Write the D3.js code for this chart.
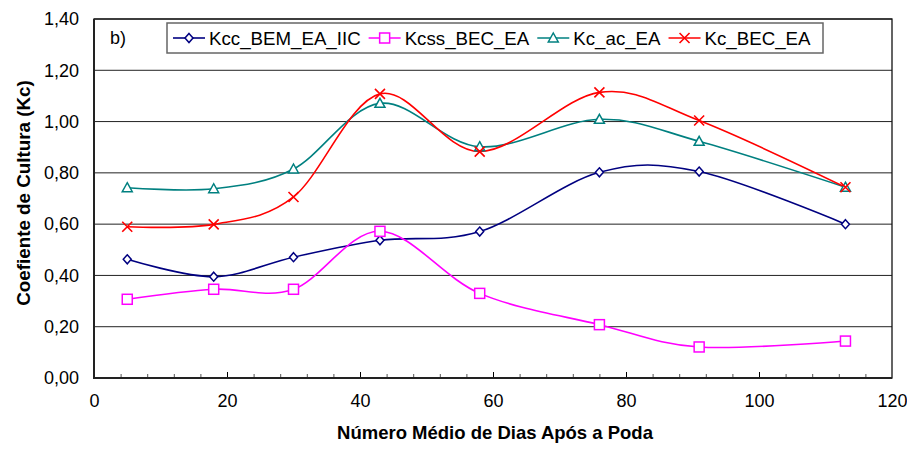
<!DOCTYPE html>
<html>
<head>
<meta charset="utf-8">
<script src="https://cdn.jsdelivr.net/npm/d3@7"></script>
<style>
  body { margin: 0; background: #fff; }
  svg { display: block; font-family: "Liberation Sans", Arial, sans-serif; }
</style>
</head>
<body>
<svg id="chart" width="907" height="452"></svg>
<script>
const days = [5, 18, 30, 43, 58, 76, 91, 113];
const kccBemEaIic = [0.463, 0.395, 0.471, 0.537, 0.571, 0.802, 0.805, 0.600];
const kcssBecEa = [0.307, 0.346, 0.346, 0.572, 0.330, 0.208, 0.121, 0.144];
const kcAcEa = [0.742, 0.738, 0.815, 1.071, 0.902, 1.009, 0.923, 0.744];
const kcBecEa = [0.590, 0.599, 0.706, 1.108, 0.883, 1.114, 1.004, 0.744];

const seriesNames = ['Kcc_BEM_EA_IIC', 'Kcss_BEC_EA', 'Kc_ac_EA', 'Kc_BEC_EA'];
const seriesColors = ['#000080', '#ff00ff', '#008080', '#ff0000'];
const seriesMarkers = ['diamond', 'square', 'triangle', 'cross'];
const seriesValues = [kccBemEaIic, kcssBecEa, kcAcEa, kcBecEa];

const xTicks = [0, 20, 40, 60, 80, 100, 120];
const yTicks = [0, 0.2, 0.4, 0.6, 0.8, 1.0, 1.2, 1.4];

const chart = d3.select('#chart');
const plotLeft = 94;
const plotRight = 892;
const plotTop = 19;
const plotBottom = 378;

const xScale = d3.scaleLinear().domain([0, 120]).range([plotLeft, plotRight]);
const yScale = d3.scaleLinear().domain([0, 1.4]).range([plotBottom, plotTop]);

const commaFormat = value => d3.format('.2f')(value).replace('.', ',');

// grid lines
chart.append('g')
  .selectAll('line')
  .data(yTicks.slice(1))
  .enter()
  .append('line')
  .attr('x1', plotLeft)
  .attr('x2', plotRight)
  .attr('y1', tick => yScale(tick))
  .attr('y2', tick => yScale(tick))
  .attr('stroke', '#222')
  .attr('stroke-width', 1);

// plot border
chart.append('rect')
  .attr('x', plotLeft)
  .attr('y', plotTop)
  .attr('width', plotRight - plotLeft)
  .attr('height', plotBottom - plotTop)
  .attr('fill', 'none')
  .attr('stroke', '#111')
  .attr('stroke-width', 1.3);

// x axis, ticks inside
const xAxisMinor = d3.axisTop(xScale)
  .tickValues(d3.range(4, 120, 4).filter(v => v % 20 !== 0))
  .tickSize(4)
  .tickFormat('');
chart.append('g')
  .attr('transform', `translate(0,${plotBottom})`)
  .call(xAxisMinor)
  .call(g => g.select('.domain').remove())
  .selectAll('line').attr('stroke', '#555');

const xAxisMajor = d3.axisTop(xScale)
  .tickValues(xTicks.slice(1, -1))
  .tickSize(6)
  .tickFormat('');
chart.append('g')
  .attr('transform', `translate(0,${plotBottom})`)
  .call(xAxisMajor)
  .call(g => g.select('.domain').remove())
  .selectAll('line').attr('stroke', '#000');

const xAxisLabels = d3.axisBottom(xScale)
  .tickValues(xTicks)
  .tickSize(0)
  .tickPadding(16)
  .tickFormat(d3.format('d'));
chart.append('g')
  .attr('transform', `translate(0,${plotBottom})`)
  .call(xAxisLabels)
  .call(g => g.select('.domain').remove())
  .selectAll('text')
  .attr('font-size', 18)
  .attr('font-family', '"Liberation Sans", Arial, sans-serif')
  .attr('fill', '#000');

const yAxisLabels = d3.axisLeft(yScale)
  .tickValues(yTicks)
  .tickSize(0)
  .tickPadding(15)
  .tickFormat(commaFormat);
chart.append('g')
  .attr('transform', `translate(${plotLeft},0)`)
  .call(yAxisLabels)
  .call(g => g.select('.domain').remove())
  .selectAll('text')
  .attr('font-size', 18)
  .attr('font-family', '"Liberation Sans", Arial, sans-serif')
  .attr('fill', '#000');

// axis lines (thicker left and bottom)
chart.append('line')
  .attr('x1', plotLeft).attr('x2', plotLeft)
  .attr('y1', plotTop).attr('y2', plotBottom + 1)
  .attr('stroke', '#222').attr('stroke-width', 2);
chart.append('line')
  .attr('x1', plotLeft - 1).attr('x2', plotRight)
  .attr('y1', plotBottom).attr('y2', plotBottom)
  .attr('stroke', '#222').attr('stroke-width', 2);

// axis titles
chart.append('text')
  .attr('x', 495)
  .attr('y', 439)
  .attr('text-anchor', 'middle')
  .attr('font-size', 18.5)
  .attr('font-weight', 'bold')
  .text('Número Médio de Dias Após a Poda');

chart.append('text')
  .attr('transform', 'translate(30,193) rotate(-90)')
  .attr('text-anchor', 'middle')
  .attr('font-size', 18.8)
  .attr('font-weight', 'bold')
  .text('Coefiente de Cultura (Kc)');

chart.append('text')
  .attr('x', 110)
  .attr('y', 44)
  .attr('font-size', 18)
  .text('b)');

// markers
function drawMarker(group, kind, color) {
  if (kind === 'diamond') {
    group.append('path')
      .attr('d', 'M0,-4.5L4,0L0,4.5L-4,0Z')
      .attr('fill', '#fff').attr('stroke', color).attr('stroke-width', 1.5);
  } else if (kind === 'square') {
    group.append('rect')
      .attr('x', -5).attr('y', -5).attr('width', 10).attr('height', 10)
      .attr('fill', '#fff').attr('stroke', color).attr('stroke-width', 1.5);
  } else if (kind === 'triangle') {
    group.append('path')
      .attr('d', 'M0,-5L5,4L-5,4Z')
      .attr('fill', '#fff').attr('stroke', color).attr('stroke-width', 1.5);
  } else {
    group.append('path')
      .attr('d', 'M-5,-5L5,5M-5,5L5,-5')
      .attr('fill', 'none').attr('stroke', color).attr('stroke-width', 1.6);
  }
}

const lineGen = d3.line()
  .x((value, i) => xScale(days[i]))
  .y(value => yScale(value))
  .curve(d3.curveCardinal.tension(0));

seriesValues.forEach((values, s) => {
  chart.append('path')
    .datum(values)
    .attr('d', lineGen)
    .attr('fill', 'none')
    .attr('stroke', seriesColors[s])
    .attr('stroke-width', 1.6);
});

seriesValues.forEach((values, s) => {
  chart.append('g')
    .selectAll('g')
    .data(values)
    .enter()
    .append('g')
    .attr('transform', (value, i) => `translate(${xScale(days[i])},${yScale(value)})`)
    .each(function () { drawMarker(d3.select(this), seriesMarkers[s], seriesColors[s]); });
});

// legend
const legend = chart.append('g');
legend.append('rect')
  .attr('x', 167)
  .attr('y', 23)
  .attr('width', 656)
  .attr('height', 30)
  .attr('fill', '#fff')
  .attr('stroke', '#666')
  .attr('stroke-width', 1.5);

let legendX = 173;
seriesNames.forEach((name, s) => {
  const item = legend.append('g');
  item.append('line')
    .attr('x1', legendX).attr('x2', legendX + 32)
    .attr('y1', 38).attr('y2', 38)
    .attr('stroke', seriesColors[s]).attr('stroke-width', 1.6);
  drawMarker(item.append('g').attr('transform', `translate(${legendX + 16},38)`), seriesMarkers[s], seriesColors[s]);
  const label = item.append('text')
    .attr('x', legendX + 36)
    .attr('y', 44.5)
    .attr('font-size', 18.7)
    .text(name);
  legendX += 36 + label.node().getComputedTextLength() + 8;
});
</script>
</body>
</html>
